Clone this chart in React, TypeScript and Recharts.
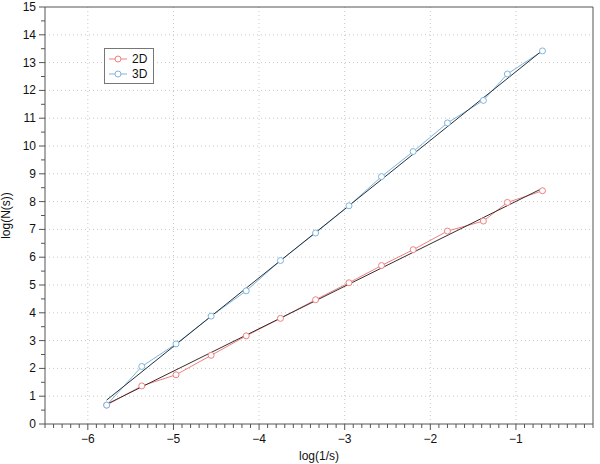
import React from 'react';
import {
  LineChart,
  Line,
  XAxis,
  YAxis,
  ReferenceLine,
} from 'recharts';

// log(1/s) for box sizes s = 1/n
const xVals = [-5.78, -5.37, -4.97, -4.56, -4.15, -3.75, -3.34, -2.95, -2.57, -2.2, -1.8, -1.38, -1.1, -0.69];
const vals2D = [0.68, 1.37, 1.77, 2.47, 3.17, 3.8, 4.47, 5.08, 5.7, 6.27, 6.94, 7.3, 7.97, 8.39];
const vals3D = [0.68, 2.07, 2.88, 3.88, 4.79, 5.88, 6.87, 7.85, 8.9, 9.8, 10.83, 11.64, 12.59, 13.42];

// fitted lines, endpoints
const fitX = [-5.78, -0.69];
const fit2D = [0.71, 8.48];
const fit3D = [0.86, 13.44];

const xMajor = [-6, -5, -4, -3, -2, -1];
const yMajor = [0, 1, 2, 3, 4, 5, 6, 7, 8, 9, 10, 11, 12, 13, 14, 15];
const xDomain: [number, number] = [-6.5, -0.1];

const xTicks: number[] = [];
for (let i = -65; i <= -1; i++) xTicks.push(i / 10);
const yTicks: number[] = [];
for (let i = 0; i <= 30; i++) yTicks.push(i / 2);

const RED = '#f07f7f';
const BLUE = '#7fb5dc';
const AXIS = '#555';
const FONT = '"Liberation Sans", Arial, Helvetica, sans-serif';

const pts = (ys: number[], xs: number[]) => xs.map((x, i) => ({ x, y: ys[i] }));
const data2D = pts(vals2D, xVals);
const data3D = pts(vals3D, xVals);
const fitData2D = pts(fit2D, fitX);
const fitData3D = pts(fit3D, fitX);

const isMajor = (v: number) => Math.abs(v - Math.round(v)) < 1e-6;

const XTick = (props: any) => {
  const { x, y, payload } = props;
  const v = payload.value;
  const major = isMajor(v);
  const top = y - 8;
  return (
    <g>
      <line x1={x} x2={x} y1={top} y2={top + (major ? 6 : 4)} stroke={AXIS} />
      {major && (
        <text x={x} y={top + 19} textAnchor="middle" fontSize={12} fill="#111" fontFamily={FONT}>
          {String(v).replace('-', '\u2212')}
        </text>
      )}
    </g>
  );
};

const YTick = (props: any) => {
  const { x, y, payload } = props;
  const v = payload.value;
  const major = isMajor(v);
  const right = x + 8;
  return (
    <g>
      <line x1={right} x2={right - (major ? 6 : 4)} y1={y} y2={y} stroke={AXIS} />
      {major && (
        <text x={right - 9} y={y + 4} textAnchor="end" fontSize={12} fill="#111" fontFamily={FONT}>
          {v}
        </text>
      )}
    </g>
  );
};

const legendItems = [
  { name: '2D', color: RED },
  { name: '3D', color: BLUE },
];

const LegendBox = () => (
  <div
    style={{
      position: 'absolute',
      left: 104,
      top: 48,
      border: '1px solid #777',
      background: '#fff',
      width: 48,
      padding: '2px 0 2px 0',
      fontFamily: FONT,
      fontSize: 12,
      color: '#111',
    }}
  >
    {legendItems.map((e) => (
      <div key={e.name} style={{ display: 'flex', alignItems: 'center', height: 15 }}>
        <svg width={24} height={10} style={{ marginLeft: 3 }}>
          <line x1={1} x2={19} y1={5} y2={5} stroke={e.color} />
          <circle cx={10} cy={5} r={3} fill="#fff" stroke={e.color} />
        </svg>
        <span>{e.name}</span>
      </div>
    ))}
  </div>
);

export default function App() {
  return (
    <div style={{ position: 'absolute', left: 0, top: 0, width: 600, height: 464, background: '#fff' }}>
      <LineChart width={600} height={464} margin={{ top: 7, right: 7, left: 0, bottom: 0 }}>
        <XAxis
          dataKey="x"
          type="number"
          domain={xDomain}
          ticks={xTicks}
          interval={0}
          tick={<XTick />}
          tickLine={false}
          axisLine={{ stroke: AXIS }}
          height={40}
          allowDataOverflow
          label={{ value: 'log(1/s)', position: 'insideBottom', offset: 4, fontSize: 12, fill: '#111', fontFamily: FONT }}
        />
        <YAxis
          dataKey="y"
          type="number"
          domain={[0, 15]}
          ticks={yTicks}
          interval={0}
          tick={<YTick />}
          tickLine={false}
          axisLine={{ stroke: AXIS }}
          width={45}
          allowDataOverflow
          label={{ value: 'log(N(s))', angle: -90, position: 'insideLeft', offset: 6, fontSize: 12, fill: '#111', fontFamily: FONT, style: { textAnchor: 'middle' } }}
        />
        {xMajor.map((v) => (
          <ReferenceLine key={'gx' + v} x={v} stroke="#c8c8c8" strokeDasharray="1 3" />
        ))}
        {yMajor.slice(1, -1).map((v) => (
          <ReferenceLine key={'gy' + v} y={v} stroke="#c8c8c8" strokeDasharray="1 3" />
        ))}
        <ReferenceLine y={15} stroke={AXIS} />
        <ReferenceLine x={-0.1} stroke={AXIS} />
        <Line
          data={data2D}
          dataKey="y"
          name="2D"
          stroke={RED}
          strokeWidth={1}
          dot={{ r: 3, fill: '#fff', stroke: RED, strokeWidth: 1 }}
          isAnimationActive={false}
        />
        <Line
          data={data3D}
          dataKey="y"
          name="3D"
          stroke={BLUE}
          strokeWidth={1}
          dot={{ r: 3, fill: '#fff', stroke: BLUE, strokeWidth: 1 }}
          isAnimationActive={false}
        />
        <Line data={fitData2D} dataKey="y" stroke="#3a2a2a" strokeWidth={1} dot={false} isAnimationActive={false} />
        <Line data={fitData3D} dataKey="y" stroke="#22303a" strokeWidth={1} dot={false} isAnimationActive={false} />
      </LineChart>
      <LegendBox />
    </div>
  );
}
